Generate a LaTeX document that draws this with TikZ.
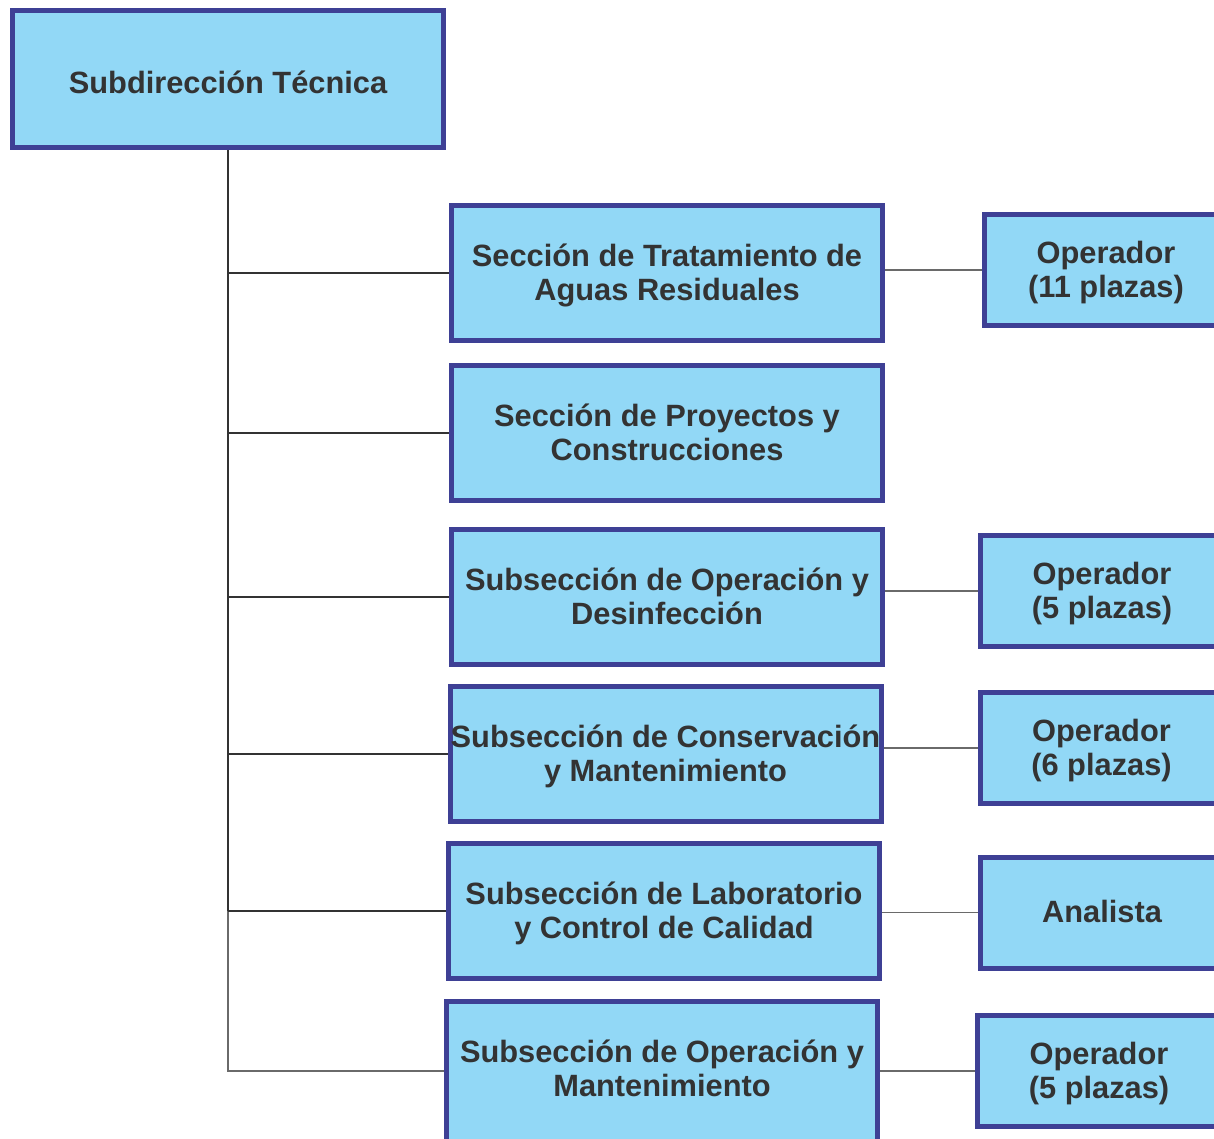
\documentclass[tikz,border=0pt]{standalone}
\usepackage{fontspec}
\setmainfont{Liberation Sans}
\usetikzlibrary{positioning}
\definecolor{boxblue}{HTML}{3E4095}
\definecolor{boxfill}{HTML}{92D8F6}
\definecolor{textgray}{HTML}{333333}
\definecolor{linegray}{HTML}{6A6A6A}
\tikzset{
  orgbox/.style={draw=boxblue,line width=5pt,fill=boxfill,text=textgray,align=center,inner sep=0pt,
    font=\fontsize{30.8}{34}\selectfont\bfseries,text height=62pt,text depth=8pt},
  oneline/.style={text height=28pt},
  headbox/.style={orgbox,oneline,text height=36pt,minimum width=431pt,minimum height=137pt},
  secbox/.style={orgbox,minimum width=431pt,minimum height=135pt},
  opbox/.style={orgbox,minimum width=243pt,minimum height=111pt},
  trunk/.style={draw=textgray,line width=2.5pt},
  thinlink/.style={draw=linegray,line width=1.3pt},
}
\begin{document}
\begin{tikzpicture}[x=1pt,y=-1pt,node distance=95pt]
  \useasboundingbox (0,0) rectangle (1214,1138);
  \node[headbox] (head) at (228,79) {Subdirección Técnica};
  % secciones
  \node[secbox] (sec1) at (667,273) {Sección de Tratamiento de\\Aguas Residuales};
  \node[secbox] (sec2) at (667,433) {Sección de Proyectos y\\Construcciones};
  \node[secbox] (sec3) at (667,597) {Subsección de Operación y\\Desinfección};
  \node[secbox] (sec4) at (665.5,754) {Subsección de Conservación\\y Mantenimiento};
  \node[secbox] (sec5) at (664,911) {Subsección de Laboratorio\\y Control de Calidad};
  \node[secbox,minimum height=145pt,text depth=18pt] (sec6) at (662,1074) {Subsección de Operación y\\Mantenimiento};
  % plazas
  \node[opbox,right=97pt of sec1,yshift=3pt] (op1) {Operador\\(11 plazas)};
  \node[opbox,right=93pt of sec3,yshift=6pt] (op3) {Operador\\(5 plazas)};
  \node[opbox,right=94pt of sec4,yshift=6pt] (op4) {Operador\\(6 plazas)};
  \node[opbox,oneline,right=96pt of sec5,yshift=-1.5pt] (op5) {Analista};
  \node[opbox,right=of sec6,yshift=3pt] (op6) {Operador\\(5 plazas)};
  % tronco
  \coordinate (trunkend) at (head.south |- sec5.west);
  \draw[trunk] (head.south) -- (trunkend);
  \draw[thinlink] (trunkend) |- ([yshift=3pt]sec6.west);
  \foreach \s in {sec1,sec2,sec3,sec4,sec5}
    \draw[trunk] (head.south |- \s.west) -- (\s.west);
  \foreach \s/\o in {sec1/op1,sec3/op3,sec4/op4,sec5/op5,sec6/op6}
    \draw[thinlink] (\o.west -| \s.east) -- (\o.west);
\end{tikzpicture}
\end{document}
